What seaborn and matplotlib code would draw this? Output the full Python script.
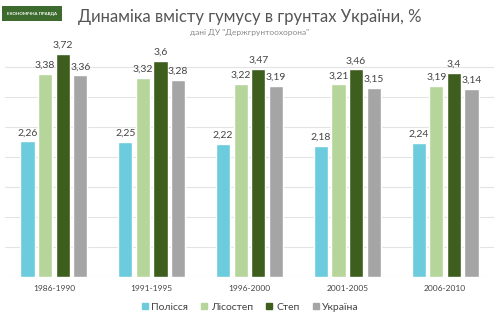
import matplotlib
matplotlib.use("Agg")
import matplotlib.pyplot as plt
import seaborn as sns
import pandas as pd
from matplotlib.patches import Rectangle
from matplotlib.lines import Line2D

periods = ["1986-1990", "1991-1995", "1996-2000", "2001-2005", "2006-2010"]
series_names = ["Полісся", "Лісостеп", "Степ", "Україна"]
polissia = [2.26, 2.25, 2.22, 2.18, 2.24]
lisostep = [3.38, 3.32, 3.22, 3.21, 3.19]
step = [3.72, 3.6, 3.47, 3.46, 3.4]
ukraina = [3.36, 3.28, 3.19, 3.15, 3.14]
colors = ["#6ccbdc", "#b6d59b", "#3e5e1e", "#a5a5a5"]

rows = []
for name, vals in zip(series_names, [polissia, lisostep, step, ukraina]):
    for p, v in zip(periods, vals):
        rows.append({"period": p, "series": name, "value": v})
df = pd.DataFrame(rows)

sns.set_style("white")
plt.rcParams["font.family"] = ["Lato", "DejaVu Sans"]

fig = plt.figure(figsize=(5, 3.22), dpi=100)
ax = fig.add_axes([0.01, 0.14, 0.978, 0.745])

sns.barplot(data=df, x="period", y="value", hue="series", order=periods,
            hue_order=series_names, palette=colors, width=0.72, gap=0.2,
            ax=ax, legend=False, saturation=1)

ax.set_ylim(0, 4.0)
ax.set_yticks([0, 0.5, 1.0, 1.5, 2.0, 2.5, 3.0, 3.5])
ax.yaxis.grid(True, color="#e3e3e3", linewidth=0.8)
ax.set_axisbelow(True)
ax.set_yticklabels([])
ax.tick_params(axis="y", length=0)
ax.tick_params(axis="x", length=0, labelsize=6, colors="#444444", pad=6)
for s in ax.spines.values():
    s.set_visible(False)
ax.set_xlabel("")
ax.set_ylabel("")

for cont in ax.containers:
    labels = [("%g" % b.get_height()).replace(".", ",") for b in cont]
    ax.bar_label(cont, labels=labels, padding=3, fontsize=7.5, color="#444444")

fig.text(0.5, 0.948, "Динаміка вмісту гумусу в грунтах України, %",
         ha="center", va="center", fontsize=12, color="#555555")
fig.text(0.5, 0.9, "дані ДУ \"Держгрунтоохорона\"", ha="center", va="center",
         fontsize=6, color="#8a8a8a")

fig.patches.append(Rectangle((0.004, 0.935), 0.12, 0.045, transform=fig.transFigure,
                             facecolor="#3d6b2e", edgecolor="none"))
fig.text(0.064, 0.957, "ЕКОНОМІЧНА ПРАВДА", ha="center", va="center",
         fontsize=3.2, color="white", fontweight="bold")

handles = [Line2D([], [], marker="s", linestyle="", markersize=5,
                  markerfacecolor=c, markeredgecolor=c) for c in colors]
fig.legend(handles, series_names, loc="center", bbox_to_anchor=(0.5, 0.047),
           ncol=4, frameon=False, fontsize=7.5, handletextpad=0.3,
           handlelength=0.7, columnspacing=1.2, labelcolor="#444444")

fig.savefig("out.png", dpi=100, facecolor="white")
